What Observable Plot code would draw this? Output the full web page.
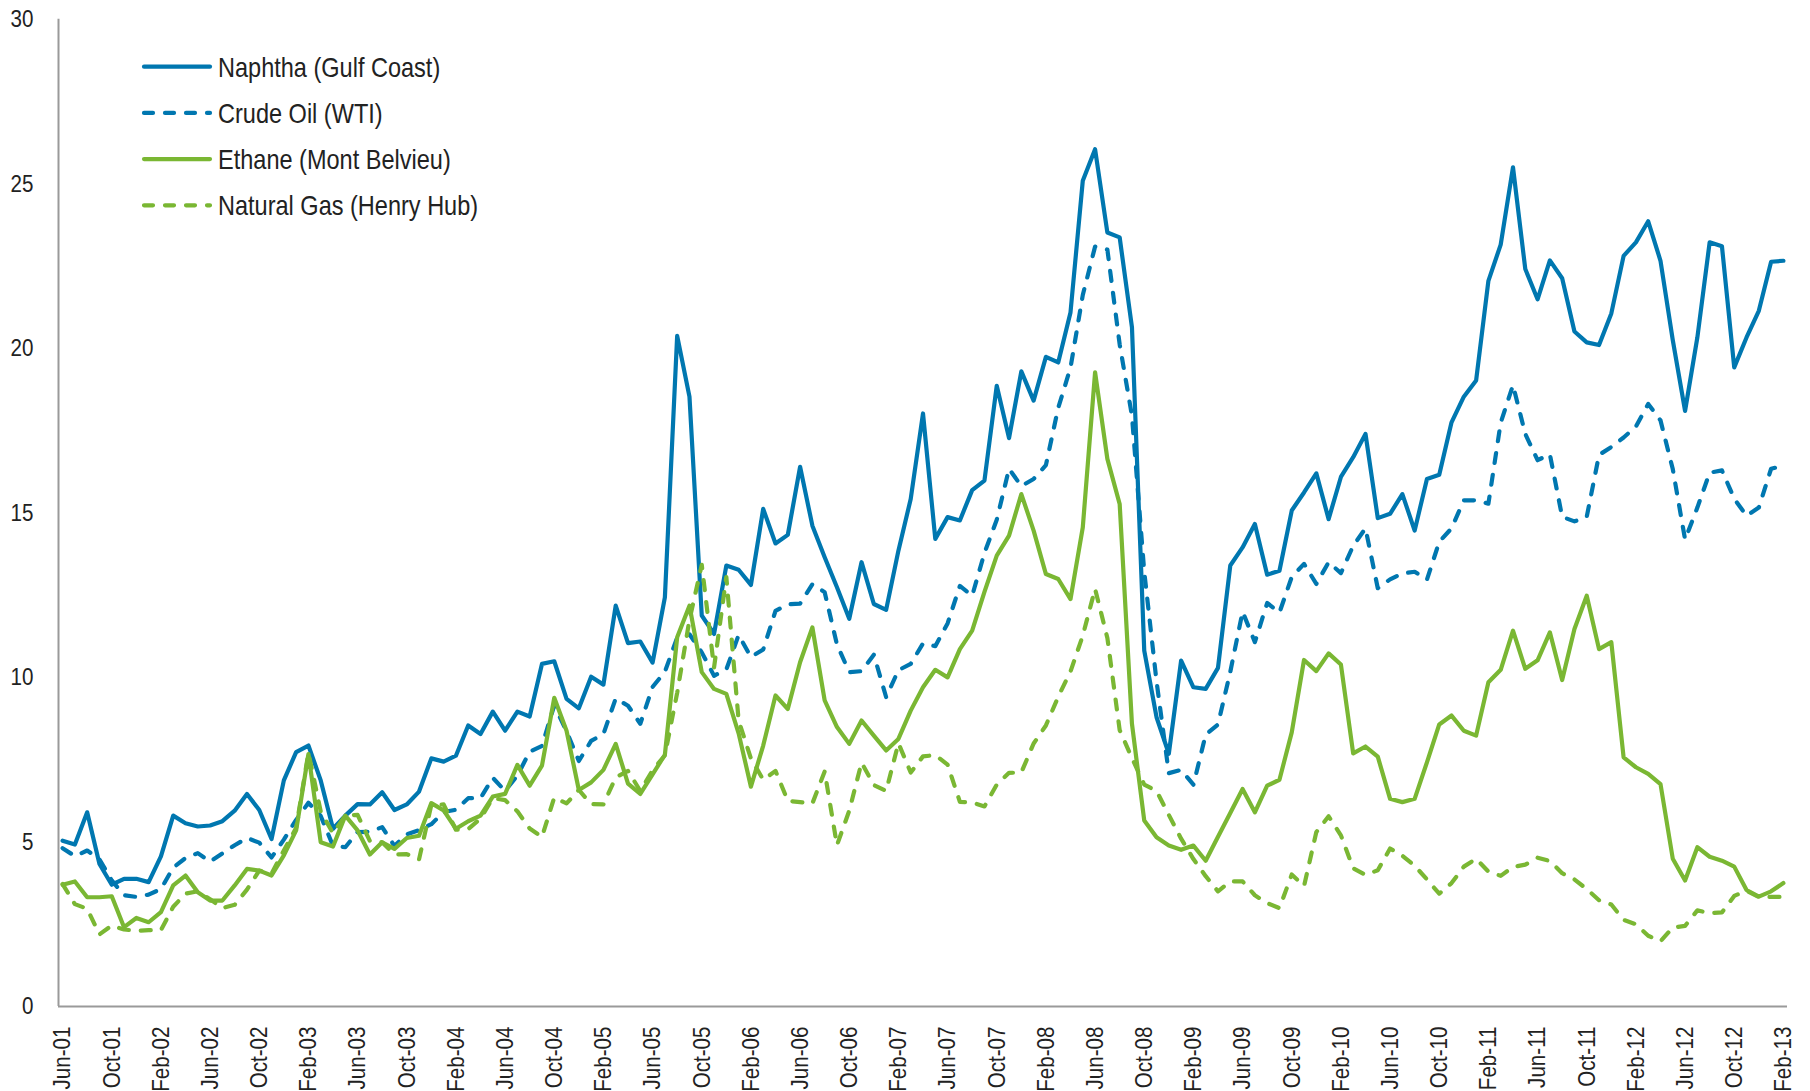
<!DOCTYPE html>
<html>
<head>
<meta charset="utf-8">
<script src="https://cdn.jsdelivr.net/npm/d3@7"></script>
<script src="https://cdn.jsdelivr.net/npm/@observablehq/plot@0.6"></script>
<style>
  html, body { margin: 0; padding: 0; background: #fff; overflow: hidden; }
  #chart { width: 1810px; height: 1091px; }
</style>
</head>
<body>
<div id="chart"></div>
<script>
// Monthly prices, $/MMBtu, Jun-01 .. Feb-13 (141 months)
const naphtha = [
  5.04,4.92,5.90,4.33,3.70,3.88,3.88,
  3.78,4.56,5.80,5.57,5.47,5.50,5.63,5.95,6.46,5.97,5.09,6.87,
  7.73,7.93,6.87,5.40,5.80,6.15,6.14,6.51,5.97,6.14,6.53,7.54,
  7.44,7.62,8.54,8.28,8.96,8.38,8.96,8.81,10.41,10.49,9.35,9.06,
  10.02,9.78,12.18,11.04,11.09,10.45,12.43,20.38,18.53,11.88,11.32,13.40,
  13.27,12.81,15.12,14.07,14.33,16.40,14.61,13.65,12.74,11.78,13.50,12.23,
  12.05,13.85,15.42,18.02,14.21,14.87,14.77,15.69,15.98,18.86,17.27,19.30,
  18.41,19.74,19.57,21.09,25.09,26.05,23.52,23.37,20.64,10.81,8.79,7.68,
  10.51,9.70,9.65,10.29,13.40,13.95,14.66,13.12,13.24,15.07,15.62,16.20,
  14.81,16.09,16.69,17.40,14.84,14.97,15.57,14.46,16.03,16.16,17.75,18.53,
  19.02,22.05,23.15,25.50,22.41,21.49,22.67,22.13,20.51,20.18,20.10,21.06,
  22.81,23.22,23.86,22.66,20.25,18.10,20.33,23.22,23.10,19.42,20.33,21.14,
  22.63,22.66
];
const crudeOil = [
  4.81,4.57,4.74,4.47,3.83,3.38,3.33,
  3.40,3.57,4.22,4.51,4.66,4.40,4.65,4.90,5.12,4.98,4.53,5.07,
  5.67,6.19,5.79,4.88,4.84,5.30,5.31,5.45,4.88,5.23,5.36,5.54,
  5.91,5.98,6.33,6.33,6.95,6.55,7.02,7.74,7.92,9.15,8.36,7.46,
  8.07,8.28,9.36,9.14,8.59,9.71,10.17,11.21,11.31,10.76,10.05,10.24,
  11.29,10.62,10.85,12.02,12.22,12.24,12.83,12.59,11.00,10.16,10.19,10.69,
  9.40,10.22,10.41,11.03,10.95,11.64,12.78,12.48,13.78,14.79,16.34,15.81,
  16.03,16.45,18.19,19.41,21.62,23.09,23.00,20.12,17.95,13.21,9.88,7.09,
  7.19,6.74,8.26,8.57,10.17,12.00,11.07,12.26,11.97,13.05,13.45,12.84,
  13.50,13.17,14.00,14.53,12.71,12.98,13.16,13.21,12.97,14.12,14.53,15.38,
  15.38,15.28,17.74,18.88,17.40,16.60,16.78,14.88,14.74,14.88,16.76,17.00,
  17.29,17.62,18.31,17.81,16.33,14.19,15.16,16.22,16.29,15.43,14.91,15.16,
  16.34,16.43
];
const ethane = [
  3.70,3.80,3.32,3.32,3.35,2.41,2.69,
  2.56,2.87,3.68,3.98,3.47,3.22,3.22,3.68,4.18,4.13,3.98,4.59,
  5.35,7.67,4.99,4.86,5.80,5.35,4.62,4.99,4.79,5.12,5.19,6.18,
  5.96,5.40,5.63,5.80,6.38,6.46,7.34,6.71,7.32,9.38,8.38,6.58,
  6.81,7.19,7.98,6.77,6.46,7.05,7.65,11.22,12.18,10.16,9.65,9.50,
  8.30,6.68,7.93,9.45,9.04,10.46,11.52,9.30,8.49,7.98,8.69,8.23,
  7.78,8.13,8.99,9.70,10.23,10.00,10.86,11.42,12.60,13.70,14.31,15.57,
  14.46,13.14,12.99,12.38,14.56,19.27,16.64,15.27,8.59,5.65,5.14,4.89,
  4.76,4.89,4.43,5.16,5.88,6.61,5.90,6.71,6.89,8.33,10.53,10.19,
  10.73,10.39,7.69,7.90,7.59,6.31,6.21,6.31,7.42,8.57,8.84,8.38,
  8.23,9.85,10.23,11.42,10.26,10.52,11.37,9.92,11.47,12.48,10.86,11.07,
  7.57,7.27,7.07,6.76,4.49,3.83,4.84,4.55,4.43,4.25,3.54,3.34,
  3.50,3.75
];
const naturalGas = [
  3.72,3.11,2.97,2.19,2.46,2.34,2.30,
  2.32,2.32,3.03,3.43,3.50,3.26,2.99,3.09,3.55,4.13,4.04,4.74,
  5.43,7.71,5.93,5.26,5.81,5.82,5.03,4.99,4.62,4.63,4.47,6.13,
  6.14,5.37,5.39,5.71,6.33,6.27,5.93,5.41,5.15,6.35,6.17,6.58,
  6.15,6.14,6.96,7.16,6.55,7.18,7.63,9.53,11.75,13.42,10.30,13.05,
  8.69,7.54,6.89,7.16,6.25,6.21,6.17,7.14,4.90,5.95,7.41,6.73,
  6.55,8.00,7.11,7.60,7.64,7.35,6.22,6.20,6.08,6.74,7.10,7.11,
  7.99,8.54,9.41,10.18,11.27,12.69,11.20,8.40,7.55,6.74,6.55,5.82,
  5.10,4.48,3.96,3.50,3.80,3.80,3.38,3.14,2.99,4.01,3.66,5.30,
  5.78,5.20,4.20,4.00,4.14,4.80,4.58,4.28,3.86,3.43,3.75,4.25,
  4.49,4.10,3.97,4.24,4.31,4.52,4.42,4.05,3.86,3.57,3.23,3.10,
  2.63,2.50,2.15,1.98,2.40,2.45,2.92,2.84,2.86,3.36,3.52,3.33,
  3.33,3.33
];

// x-axis tick labels, one every 4 months starting Jun-01
const tickLabels = [
  "Jun-01","Oct-01","Feb-02","Jun-02","Oct-02","Feb-03","Jun-03","Oct-03",
  "Feb-04","Jun-04","Oct-04","Feb-05","Jun-05","Oct-05","Feb-06","Jun-06",
  "Oct-06","Feb-07","Jun-07","Oct-07","Feb-08","Jun-08","Oct-08","Feb-09",
  "Jun-09","Oct-09","Feb-10","Jun-10","Oct-10","Feb-11","Jun-11","Oct-11",
  "Feb-12","Jun-12","Oct-12","Feb-13"
];
const tickStep = 4;
const tickIdx = tickLabels.map((_, k) => k * tickStep);
const yTicks = [0, 5, 10, 15, 20, 25, 30];

const seriesNames = ["Naphtha (Gulf Coast)", "Crude Oil (WTI)", "Ethane (Mont Belvieu)", "Natural Gas (Henry Hub)"];
const seriesData = [naphtha, crudeOil, ethane, naturalGas];

const BLUE = "#0077b0";
const GREEN = "#7ab733";
const seriesColors = [BLUE, BLUE, GREEN, GREEN];
const DASH = "10,12";
const seriesDash = [null, DASH, null, DASH];

const FONT = "'Liberation Sans', Arial, sans-serif";
const NARROW = 0.84; // horizontal compression to mimic a narrow typeface
const TEXT = "#222";
const AXIS = "#9a9a9a";

const xDomain = [-1/3, naphtha.length - 1 + 1/3];

function legend() {
  const g = d3.create("svg:g").attr("font-family", FONT).attr("fill", TEXT).attr("text-anchor", "start");
  seriesNames.forEach((name, k) => {
    const cy = 66.7 + k * 46.2;
    g.append("line")
      .attr("x1", 144).attr("x2", 210)
      .attr("y1", cy).attr("y2", cy)
      .attr("stroke", seriesColors[k])
      .attr("stroke-width", 4.2)
      .attr("stroke-linecap", "round")
      .attr("stroke-dasharray", seriesDash[k] ? "9,12" : null);
    g.append("text")
      .attr("x", 218).attr("y", cy)
      .attr("dy", "0.36em")
      .attr("font-size", 28)
      .attr("text-anchor", "start")
      .text(name);
  });
  return g.node();
}

const lineMarks = seriesData.map((arr, k) =>
  Plot.line(arr, {
    x: (d, i) => i,
    y: d => d,
    stroke: seriesColors[k],
    strokeWidth: 4.2,
    strokeDasharray: seriesDash[k],
    strokeLinejoin: "round",
    strokeLinecap: "round"
  })
);

const chart = Plot.plot({
  width: 1810,
  height: 1091,
  marginLeft: 58,
  marginRight: 23,
  marginTop: 18.7,
  marginBottom: 85,
  style: { fontFamily: FONT, fontSize: "24.5px", color: TEXT, background: "#fff" },
  x: { domain: xDomain },
  y: { domain: [0, 30] },
  marks: [
    Plot.axisX({
      ticks: tickIdx,
      tickFormat: i => tickLabels[i / tickStep],
      tickRotate: -90,
      tickSize: 0,
      tickPadding: 20,
      fontSize: 24.5,
      fill: TEXT,
      label: null
    }),
    Plot.axisY({
      ticks: yTicks,
      tickSize: 0,
      tickPadding: 25,
      fontSize: 24.5,
      fill: TEXT,
      label: null
    }),
    Plot.ruleY([0], { stroke: AXIS, strokeWidth: 2 }),
    Plot.ruleX([xDomain[0]], { stroke: AXIS, strokeWidth: 2 }),
    ...lineMarks,
    legend
  ]
});

document.getElementById("chart").appendChild(chart);

// compress every text horizontally (along its advance) to imitate a narrow face
chart.querySelectorAll("text").forEach(t => {
  const L = t.getComputedTextLength();
  if (L > 0) {
    t.setAttribute("textLength", (L * NARROW).toFixed(2));
    t.setAttribute("lengthAdjust", "spacingAndGlyphs");
  }
});
</script>
</body>
</html>
